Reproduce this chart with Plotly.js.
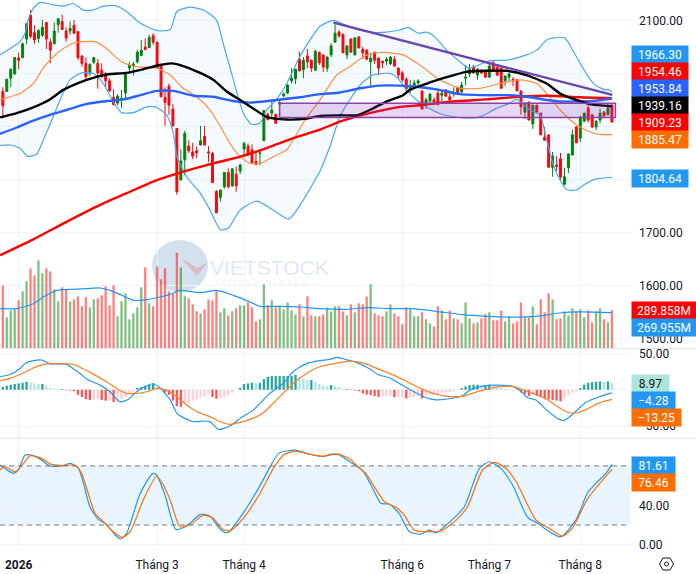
<!DOCTYPE html>
<html><head><meta charset="utf-8">
<script src="https://cdn.plot.ly/plotly-3.0.1.min.js"></script>
<style>html,body{margin:0;padding:0;background:#fff}#c{width:696px;height:574px}</style>
</head><body><div id="c"></div>
<script>
const open_=[1967,1967,1992,2000,2030,2031,2066,2111,2078,2067,2073,2097,2060,2057,2093,2099,2081,2081,2092,2080,2034,2020,2001,2022,2020,2007,1997,1987,1956,1945,1952,1964,2011,2015,2023,2035,2051,2050,2072,2060,2018,1956,1977,1934,1897,1800,1838,1864,1853,1855,1866,1882,1853,1850,1778,1767,1787,1814,1789,1811,1817,1858,1864,1857,1835,1850,1874,1924,1926,1924,1943,1959,1964,1987,1991,2028,2008,2034,2026,2007,2041,2036,2011,2036,2060,2079,2075,2036,2066,2036,2070,2047,2045,2023,2041,2030,2024,2024,2019,2028,2011,2002,1990,1972,1975,1983,1968,1945,1949,1951,1964,1960,1970,1957,1962,1975,1966,1992,2000,2013,1998,2007,2006,1994,2021,2013,2011,1987,1994,1990,1989,1968,1928,1947,1906,1941,1926,1881,1885,1824,1828,1840,1792,1823,1847,1900,1879,1911,1936,1923,1900,1913,1928,1923,1941];
const high=[1975,1991,2010,2032,2040,2059,2096,2121,2092,2084,2102,2098,2067,2097,2105,2112,2088,2099,2102,2081,2035,2031,2020,2032,2028,2020,2004,1992,1971,1962,1970,2004,2023,2023,2045,2064,2067,2074,2077,2061,2019,1975,1982,1943,1898,1858,1893,1875,1870,1863,1902,1902,1864,1853,1781,1782,1815,1822,1822,1825,1831,1872,1869,1867,1853,1857,1932,1927,1948,1925,1953,1965,1981,2011,2010,2042,2032,2047,2027,2045,2042,2037,2033,2058,2094,2083,2076,2054,2067,2070,2071,2051,2047,2040,2042,2031,2025,2032,2034,2034,2013,2006,1994,1989,1989,1990,1969,1955,1964,1956,1970,1968,1971,1964,1975,1976,1985,2017,2019,2017,2011,2009,2007,2021,2025,2014,2012,1997,2002,1994,1990,1969,1946,1948,1942,1942,1927,1900,1886,1853,1845,1851,1823,1850,1895,1901,1920,1927,1941,1924,1912,1934,1930,1943,1944];
const low=[1916,1966,1975,1999,2009,2029,2056,2067,2057,2059,2070,2047,2020,2056,2078,2083,2061,2074,2075,2026,2014,1987,1996,2019,1972,1992,1975,1967,1941,1941,1936,1952,2001,1997,2020,2034,2045,2049,2055,2010,1956,1902,1923,1902,1772,1799,1809,1851,1839,1841,1865,1865,1834,1795,1738,1759,1784,1784,1787,1778,1811,1844,1845,1831,1828,1828,1874,1912,1916,1906,1919,1956,1962,1982,1981,2005,1992,2011,2004,2007,2017,2004,2004,2032,2060,2068,2039,2028,2040,2035,2049,2028,2026,1975,2019,1998,2011,2017,2017,2013,1992,1985,1966,1964,1974,1979,1933,1934,1945,1945,1941,1945,1958,1945,1957,1960,1964,1979,1994,2000,1989,2000,1994,1994,2005,1996,1972,1977,1985,1977,1968,1923,1915,1913,1896,1926,1885,1875,1824,1806,1817,1800,1790,1813,1847,1870,1872,1909,1909,1898,1894,1907,1919,1922,1909];
const close_=[1940,1990,2009,2031,2026,2057,2095,2071,2064,2082,2088,2066,2045,2081,2104,2084,2068,2086,2077,2031,2020,1995,2018,2031,2002,1996,1987,1968,1942,1958,1954,2002,2017,2019,2041,2045,2046,2069,2060,2011,1957,1946,1941,1902,1778,1836,1888,1855,1845,1851,1874,1866,1851,1795,1738,1781,1814,1787,1821,1789,1828,1869,1847,1833,1829,1851,1931,1914,1932,1907,1946,1962,1979,1992,2009,2006,2026,2023,2011,2043,2021,2013,2032,2053,2077,2072,2040,2053,2041,2068,2049,2040,2028,2030,2026,2011,2021,2028,2032,2015,1998,1989,1972,1975,1983,1987,1934,1951,1962,1947,1943,1964,1958,1951,1964,1962,1979,1994,2009,2002,2009,2002,1994,2015,2006,1998,1973,1996,2000,1987,1968,1938,1945,1913,1941,1928,1885,1875,1824,1845,1826,1806,1806,1849,1885,1870,1919,1926,1913,1900,1911,1926,1921,1936,1909.23];
const volumeM=[478,234,287,295,364,432,509,608,554,669,570,608,585,448,356,463,448,356,371,394,318,387,310,371,379,402,470,326,478,242,356,417,219,264,310,463,615,341,318,623,524,608,432,417,727,615,394,379,333,280,264,295,371,364,432,272,303,249,280,303,326,326,348,310,203,219,486,326,364,310,326,295,348,287,257,333,242,394,249,242,242,257,310,279,318,318,279,249,333,272,341,333,394,486,264,249,242,280,333,264,242,181,310,295,242,242,272,219,188,165,318,287,219,287,226,219,188,348,226,188,196,226,257,272,211,211,287,203,242,188,203,348,234,234,318,181,371,272,417,371,219,226,280,249,303,280,295,234,287,196,280,303,219,196,289.858];
const macdHist=[4,5.5,7,8,8.7,9.6,11,10,8.7,8,8,5.5,2.7,1.8,0.5,1,-0.5,-1,-2,-7,-10,-13,-14,-13,-13,-14,-15,-15,-17,-16,-13,-10,-6,-3,2.7,4,5.5,7,8.7,2.7,0,-3.7,-7,-15,-22.5,-23.4,-19,-18,-15,-13,-11,-9,-6,-10,-12.4,-12.4,-10,-8,-4,0,2.7,8,8.7,9.6,8.7,9.6,14.7,17.9,18.8,18.8,18.8,18.8,18.8,18.8,20.6,17.9,15.6,13.3,13.3,11,8,6.4,5,6.4,5.5,3.7,1,1,-0.5,-1,-2,-5,-6.5,-7.3,-8.7,-10,-9.6,-8.7,-8.7,-10,-10,-10,-12,-11,-10,-8.7,-12,-8.7,-6.4,-6.4,-5.5,-4,-4,-3,-2.3,-0.5,2.3,4.6,6.4,7,7,6,6,7,5,3.7,2.3,1.4,0.9,0.5,0.5,-4,-5.5,-8.7,-7,-8,-9.6,-12.4,-13.3,-14,-15,-16,-12,-8,-4,-2,2.3,7,9.6,10.5,11,11.5,10.5,11.5,8.97];

const bbUpperX=[-0.7,4.3,5.6,6.4,7.7,9.4,11.9,15.3,17.8,20.3,22.9,25.4,28.4,31.3,34.7,38.9,42.3,44,47.3,50.7,54,55.7,58.3,60.8,62.9,65,66.7,69.2,71.8,75.1,80.2,83.5,85.2,88.6,92.8,97,100.4,102.5,105,107.1,109.2,112.2,115.6,118,123,127.4,132.4,135,137.5,139.2,142.1,145,148,149.8,152.3,153.1,154];
const bbUpper=[2036,2061,2077,2102,2124,2135,2132,2128,2133,2121,2121,2128,2129,2118,2096,2082,2084,2118,2126,2121,2102,2058,1989,1926,1905,1907,1932,1952,1982,2033,2090,2101,2097,2086,2079,2079,2083,2088,2077,2079,2070,2045,2023,2011,2025,2026,2036,2045,2064,2068,2068,2033,1995,1979,1970,1971,1966.3];
const bbLowerX=[-0.7,1.8,4.3,6.4,8.6,10.2,11.9,14.5,17,19.9,22.9,25.4,27.9,30,33,36.4,38.5,41.4,43.1,44,46.5,49.9,52.4,55,57,60,64.2,68.4,72.2,74.3,80.2,82.7,85.2,87.7,90.7,93.6,97.8,99.9,102,104.6,107.1,110.9,116.4,120.6,124.8,128.2,129.9,133.3,135.8,137.5,139.2,140.9,142.5,145,147.6,150.1,154];
const bbLower=[1865,1866,1860,1844,1849,1875,1904,1951,1989,2002,2001,1982,1948,1927,1927,1938,1938,1923,1888,1844,1806,1775,1743,1706,1709,1743,1760,1743,1726,1743,1817,1863,1919,1951,1982,1998,2001,1992,1970,1951,1938,1924,1917,1919,1935,1945,1952,1932,1923,1875,1828,1800,1782,1781,1794,1802,1804.64];
const ma20X=[-0.7,1.8,4.3,7.7,10.2,12.8,15.3,17.8,20.3,23.3,26.2,30,33.8,38.9,42.3,45.6,49,52.4,55,57.4,60,62.5,65,68.4,71.8,73.9,76.4,80.2,84.4,87.7,91.5,94.5,97.8,101.2,105.4,110.5,115.6,120.6,125.7,130.7,135,137.5,140.9,145,148.4,150.9,154];
const ma20=[1951,1957,1963,1982,2011,2033,2048,2058,2061,2061,2048,2023,2014,2011,1998,1973,1957,1932,1901,1869,1844,1831,1831,1844,1857,1882,1913,1951,1998,2014,2034,2040,2040,2036,2017,1989,1973,1973,1982,1989,1982,1963,1932,1904,1891,1886,1885.47];
const maBlackX=[-0.7,3.5,7.7,11.9,15.3,18.7,23.9,27.1,31.3,35.5,39.7,42.7,45.6,49.9,53.2,56.6,60,63.3,66.7,71.8,76.9,80.2,85.2,89.4,92.8,97,101.2,102.9,108,112.2,117.2,122.3,127.4,132.4,137.5,140.9,145,148.4,154];
const maBlack=[1918,1926,1937,1952,1970,1982,1995,2000,2002,2009,2017,2020,2015,2002,1989,1967,1951,1935,1919,1914,1916,1921,1922,1922,1932,1948,1960,1970,1984,1994,2004,2006,2006,1998,1982,1963,1951,1943,1939.16];
const maBlueX=[-0.7,3.5,7.7,11.9,16.1,21,25.4,30.5,34.7,38.9,43.1,48.2,53.2,58.3,62.5,69.2,75.1,80.2,85.2,90.3,95.3,100.4,104.6,109.7,115.6,122.3,128.2,132.4,137.5,140.9,145,149.2,154];
const maBlue=[1887,1899,1912,1923,1932,1943,1948,1952,1960,1968,1968,1959,1957,1949,1946,1951,1956,1962,1965,1973,1978,1978,1976,1971,1962,1960,1960,1957,1951,1948,1948,1949,1953.84];
const maRedX=[-0.7,7.7,16.1,24.6,31.3,38,44,51.5,60,66.7,73.4,80.2,85.2,92.8,99.6,105.4,113.8,122.3,130.7,137.5,145.9,154];
const maRed=[1658,1688,1721,1753,1775,1797,1812,1828,1844,1860,1879,1895,1910,1926,1937,1941,1948,1952,1957,1959,1956,1954.46];
const trendX=[83.6,154.1];
const trendP=[2097,1960.4];
const boxX=[69.95,154.9];
const boxP=[1944.7,1917.9];
const volMaX=[-0.7,3.5,7.7,10.2,13.6,17.8,21.2,24.6,27.1,29.6,33,36.4,39.7,42.3,44.8,49.9,54,58.3,62.5,65,69.2,75.1,80.2,86.8,92.7,97.7,103.6,109.5,116.3,122.2,128.9,134.8,140.7,145.7,154];
const volMa=[300,300,338,389,440,448,453,458,440,409,364,369,389,409,440,422,440,402,351,318,318,313,300,295,308,300,300,280,254,242,236,242,267,275,269.955];
const macdX=[-0.7,1.8,4.3,5.6,7.7,9.8,11.9,16.1,17.8,19.5,21.6,24.6,27.1,29.6,31.7,33.8,36.4,37.9,39.7,42.3,44,45.2,48.2,50.7,52.4,54.5,57.4,60,63.3,65,67.5,70.9,73.4,76.8,80.2,82.7,84.4,87.8,90.1,92.7,94.8,97.7,100.7,103.6,107,109.5,112.9,116.3,118.4,121.3,124.7,128.9,131,132.7,134.8,137.3,140.7,142,144,147.5,150.8,154];
const macd=[17.9,21,29,36,40,41,36,35,29,22.5,13.3,6.4,-2.8,-16.5,-13.3,-2.8,5.5,8.3,2.8,-14,-32.5,-37,-44,-43,-44,-54.6,-50,-39.4,-28,-18.8,-5,8.7,24.8,36,40,41.7,44.5,40,36,29,21,16.5,7.3,-1.8,-11,-13.8,-12.4,-7.8,0.5,5,6.4,4.6,-1.8,-11,-14,-27,-40.8,-42,-34,-17,-9.6,-4.28];
const signalX=[-0.7,1.8,4.3,7.7,10.2,13.6,17.8,19.5,22.9,26.2,28.8,31.3,33.8,36.4,38.9,41.4,44,46.5,49,52.4,55,57.4,60,63.3,65.9,69.2,73.4,76.8,79.3,83.6,87.8,91,95.2,99.4,103.6,107.8,112,116.3,120.5,124.7,128.9,133.1,137.3,140.7,143.2,145.3,147.5,150.8,154];
const signal=[12.4,15.6,21,30,35,36,35,31,21.5,11,1.8,-5,-5,-2.8,1.8,-0.5,-9.6,-21,-30,-37,-44,-47.7,-45,-39,-31.6,-14,8.7,22.5,30,36,39.5,37,28,18.8,7.3,-3.2,-8.7,-8.7,-1.8,3.7,4.6,-3.2,-12.4,-24.8,-31.6,-31.6,-27,-18,-13.25];
const stochKX=[-0.7,0.5,2.7,3.9,5.6,7.3,9.8,11.9,14.9,17,19.1,20.4,22,24.1,26.2,28.4,29.8,31.3,34.7,37.9,38.9,41,43.7,45.6,47.3,49.9,52.4,54.9,56.8,60.4,64.6,66.7,69.7,73.9,77.7,81,82.7,84.8,87.8,91,93.1,95.6,97.7,100.2,102.8,105.7,107.8,109.7,111.6,113.7,116.7,120.5,123,125.9,128.9,132.7,135.7,137.3,140.7,141.5,144.9,147.9,150.8,152.5,154];
const stochK=[81,77.6,72.5,76,91,91,86,80,80,82.7,77.6,62,38.6,25.7,20.7,9.8,5.8,11.5,52,72.5,70.8,50.5,15.6,17.3,21.7,30.8,29,16,12.2,30,57,72.5,92.8,96,91.8,89.4,91.8,91.8,84,75,60.6,42,41.3,31.8,13.2,10.8,14.9,12.2,18.3,25.7,38.6,77.6,84.3,77.6,60.6,27.8,20.7,15.6,8,8.8,25,53,65.7,72.5,81.61];
const stochDX=[-0.7,0.5,3.1,5.2,6.9,9.8,12.3,15.3,18.2,19.9,21.6,23.3,25.4,27.9,30.3,32.2,35.5,38.9,40.6,42.3,44.8,47.3,50.7,53.2,55.3,57.4,60.8,65,68.4,70.9,73.9,77.7,81,84.8,87.8,89.3,91.8,93.9,96.5,99.4,101.5,104,107,110.8,114.6,117.5,121.3,124.3,127.2,129.8,134.8,138.2,141.5,144,147.9,154];
const stochD=[75.9,79.3,74,82.7,90.4,87.7,81.6,80.3,81,72.5,52,31.8,23.4,13.2,7.5,13.2,45.4,69.8,60.6,45.4,18.3,20,30,26.8,16.6,13.9,26.8,52,77.6,91,95,91.8,90,92,87,81,72.5,59,43.7,38,30,15,13.2,14.2,25,38.6,75.9,83.7,77.6,64,25,16.6,8.8,16.6,47,76.46];

const monthTickIdx=[4,39,61,101,123,146];
const monthTickText=['<b>2026</b>','Tháng 3','Tháng 4','Tháng 6','Tháng 7','Tháng 8'];
const priceTicks=[1500,1600,1700,1800,1900,2000,2100];
const priceTickText=['1500.00','1600.00','1700.00','','','','2100.00'];
const macdTicks=[-50,0,50];
const macdTickText=['−50.00','','50.00'];
const stochTicks=[0,40,80];
const stochTickText=['0.00','40.00',''];
const stochBands=[20,80];

const W=630,H=548;
const px=x=>x/W, py=y=>1-y/H;
const idx=open_.map((_,i)=>i);
const lineTrace=(x,y,color,width,yaxis,extra)=>Object.assign({type:'scatter',mode:'lines',x,y,yaxis,line:{color,width,shape:'spline',smoothing:0.6},hoverinfo:'skip'},extra||{});
const volColors=idx.map(i=>close_[i]<open_[i]?'rgba(255,0,0,0.5)':'rgba(0,128,0,0.5)');
const histColors=macdHist.map((v,i)=>{const p=i?macdHist[i-1]:v;return v>=0?(v>=p?'#26a69a':'#ace5dc'):(v<p?'#ff5252':'#ffcdd2');});

const traces=[
 {type:'bar',x:idx,y:volumeM,yaxis:'y4',marker:{color:volColors,line:{width:0}},hoverinfo:'skip'},
 lineTrace(volMaX,volMa,'#2196f3',1.2,'y4'),
 lineTrace(bbUpperX,bbUpper,'#4aa8f2',1.2,'y'),
 lineTrace(bbLowerX,bbLower,'#4aa8f2',1.2,'y',{fill:'tonexty',fillcolor:'rgba(33,150,243,0.05)'}),
 {type:'candlestick',x:idx,open:open_,high,low,close:close_,yaxis:'y',whiskerwidth:0,
  increasing:{line:{color:'#008000',width:1},fillcolor:'#008000'},
  decreasing:{line:{color:'#ff0000',width:1},fillcolor:'#ff0000'},hoverinfo:'skip'},
 lineTrace(ma20X,ma20,'#ff9040',1.2,'y'),
 lineTrace(maRedX,maRed,'#ff0000',2.4,'y'),
 lineTrace(maBlueX,maBlue,'#2962ff',2.4,'y'),
 lineTrace(maBlackX,maBlack,'#000000',2.4,'y'),
 {type:'scatter',mode:'lines',x:trendX,y:trendP,yaxis:'y',line:{color:'#6a44b0',width:2.4},hoverinfo:'skip'},
 {type:'bar',x:idx,y:macdHist,yaxis:'y2',marker:{color:histColors,line:{width:0}},hoverinfo:'skip'},
 lineTrace(macdX,macd,'#2196f3',1.2,'y2'),
 lineTrace(signalX,signal,'#ff7f27',1.2,'y2'),
 lineTrace(stochKX,stochK,'#2196f3',1.2,'y3'),
 lineTrace(stochDX,stochD,'#ff6d00',1.2,'y3')
];

const yBase={side:'right',anchor:'x',zeroline:false,showline:false,ticks:'',gridcolor:'#f0f3fa',gridwidth:1,tickmode:'array',ticklabelstandoff:8,tickfont:{family:'Roboto, sans-serif',size:12,color:'#131722'},fixedrange:true};

const tag=(text,yc,bg,right,fg)=>({xref:'paper',yref:'paper',x:px(631),y:py(yc),xanchor:'left',yanchor:'middle',text,showarrow:false,bgcolor:bg,width:right-631,height:17,borderpad:0,align:'center',font:{family:'Roboto, sans-serif',size:12,color:fg||'#fff'}});
const annotations=[
 tag('1966.30',54.5,'#2196f3',687),tag('1954.46',71.5,'#ff0000',687),tag('1953.84',88.5,'#2962ff',687),
 tag('1939.16',105.5,'#000000',687),tag('1909.23',122.5,'#ff0000',687),tag('1885.47',139.5,'#ff6d00',687),
 tag('1804.64',178.5,'#2196f3',687),
 tag('289.858M',310.5,'#ff0000',695),tag('269.955M',327.5,'#2196f3',695),
 tag('8.97',383.5,'#ace5dc',668,'#131722'),tag('−4.28',400.5,'#2196f3',674),tag('−13.25',417.5,'#ff6d00',680),
 tag('81.61',465.5,'#2196f3',674),tag('76.46',482.5,'#ff6d00',674),
 {xref:'paper',yref:'paper',x:px(208),y:py(267.5),xanchor:'left',yanchor:'middle',showarrow:false,text:'VIETSTOCK',font:{family:'Liberation Sans, sans-serif',size:21,color:'rgba(100,145,195,0.22)'}},
 {xref:'paper',yref:'paper',x:px(213),y:py(282),xanchor:'left',yanchor:'middle',showarrow:false,text:'r e f r e s h   a l w a y s',font:{family:'Liberation Sans, sans-serif',size:9,color:'rgba(100,145,195,0.16)'}}
];

const hex=[[659.5,564],[663,558],[670,558],[673.5,564],[670,570],[663,570]].map(p=>px(p[0])+','+py(p[1]));
const shapes=[
 {type:'circle',xref:'paper',yref:'paper',layer:'below',x0:px(152),x1:px(208),y0:py(240),y1:py(292),fillcolor:'rgba(70,130,190,0.24)',line:{width:0}},
 {type:'path',xref:'paper',yref:'paper',layer:'below',path:'M '+px(181)+','+py(258)+' L '+px(197)+','+py(276)+' L '+px(208)+','+py(262)+' L '+px(197)+','+py(268)+' Z',fillcolor:'rgba(240,110,110,0.32)',line:{width:0}},
 {type:'rect',xref:'x',yref:'y',x0:boxX[0],x1:boxX[1],y0:boxP[1],y1:boxP[0],fillcolor:'rgba(140,50,190,0.2)',line:{color:'#8e3fa8',width:1.4}},
 {type:'rect',xref:'paper',yref:'y3',layer:'below',x0:0,x1:1,y0:stochBands[0],y1:stochBands[1],fillcolor:'rgba(33,150,243,0.1)',line:{width:0}},
 {type:'line',xref:'paper',yref:'y3',x0:0,x1:1,y0:stochBands[0],y1:stochBands[0],line:{color:'#787b86',width:1,dash:'5px,4px'}},
 {type:'line',xref:'paper',yref:'y3',x0:0,x1:1,y0:stochBands[1],y1:stochBands[1],line:{color:'#787b86',width:1,dash:'5px,4px'}},
 {type:'line',xref:'paper',yref:'paper',x0:0,x1:696/W,y0:py(348.5),y1:py(348.5),line:{color:'#e0e3eb',width:1}},
 {type:'line',xref:'paper',yref:'paper',x0:0,x1:696/W,y0:py(438.3),y1:py(438.3),line:{color:'#e0e3eb',width:1}},
 {type:'path',xref:'paper',yref:'paper',path:'M '+hex.join(' L ')+' Z',fillcolor:'rgba(0,0,0,0)',line:{color:'#131722',width:1}},
 {type:'circle',xref:'paper',yref:'paper',x0:px(664.5),x1:px(668.5),y0:py(562),y1:py(566),fillcolor:'rgba(0,0,0,0)',line:{color:'#131722',width:1}}
];

const layout={
 width:696,height:574,margin:{l:0,r:66,t:0,b:26,pad:0},paper_bgcolor:'#fff',plot_bgcolor:'rgba(0,0,0,0)',showlegend:false,barmode:'overlay',bargap:0.42,hovermode:false,
 font:{family:'Roboto, sans-serif',size:12,color:'#131722'},
 xaxis:{range:[-0.72,158.57],anchor:'y3',showgrid:true,gridcolor:'#f0f3fa',zeroline:false,showline:false,ticks:'',tickmode:'array',tickvals:monthTickIdx,ticktext:monthTickText,tickfont:{family:'Roboto, sans-serif',size:12,color:'#131722'},rangeslider:{visible:false},fixedrange:true,ticklabelstandoff:8},
 yaxis:Object.assign({},yBase,{domain:[py(348),1],range:[1482.9,2139.6],tickvals:priceTicks,ticktext:priceTickText}),
 yaxis2:Object.assign({},yBase,{domain:[py(438),py(349)],range:[-66.4,56.1],tickvals:macdTicks,ticktext:macdTickText}),
 yaxis3:Object.assign({},yBase,{domain:[0,py(439)],range:[-3.35,107.4],tickvals:stochTicks,ticktext:stochTickText}),
 yaxis4:{domain:[py(348),py(250)],range:[0,748],anchor:'x',side:'right',showgrid:false,showticklabels:false,zeroline:false,showline:false,ticks:'',fixedrange:true},
 annotations,shapes
};
Plotly.newPlot('c',traces,layout,{staticPlot:true,displayModeBar:false});
</script></body></html>
